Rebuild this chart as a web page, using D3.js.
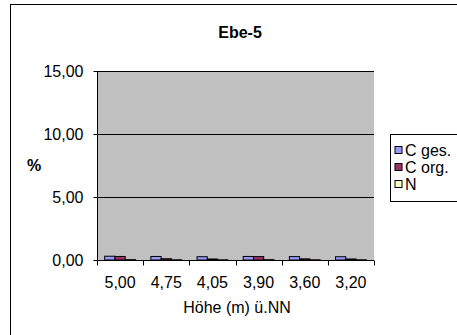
<!DOCTYPE html>
<html>
<head>
<meta charset="utf-8">
<script src="https://cdn.jsdelivr.net/npm/d3@7"></script>
<style>
  body { margin: 0; background: #fff; }
  svg { display: block; font-family: "Liberation Sans", Arial, sans-serif; }
</style>
</head>
<body>
<svg id="chart" width="457" height="335"></svg>
<script>
const categories = ["5,00", "4,75", "4,05", "3,90", "3,60", "3,20"];
const seriesNames = ["C ges.", "C org.", "N"];
const cGes = [0.30, 0.28, 0.26, 0.28, 0.27, 0.26];
const cOrg = [0.28, 0.10, 0.08, 0.27, 0.09, 0.08];
const nVals = [0.03, 0.02, 0.02, 0.03, 0.02, 0.02];
const yTicks = [0, 5, 10, 15];

const colors = ["#9999FF", "#993366", "#FFFFCC"];
const series = [cGes, cOrg, nVals];

const dims = { left: 97, right: 374, top: 71, bottom: 260, font: 16 };

const svg = d3.select("#chart");

// outer chart frame (runs off the right/bottom edge)
svg.append("rect")
  .attr("x", 10.5).attr("y", 4.5)
  .attr("width", 470).attr("height", 350)
  .attr("fill", "#fff").attr("stroke", "#000");

const x = d3.scaleBand()
  .domain(categories)
  .range([dims.left, dims.right]);

const x1 = d3.scaleBand()
  .domain(d3.range(series.length))
  .range([0, x.bandwidth()])
  .paddingInner(0)
  .paddingOuter(0.75);

const y = d3.scaleLinear()
  .domain([0, 15])
  .range([dims.bottom, dims.top]);

// plot area
svg.append("rect")
  .attr("x", dims.left).attr("y", dims.top)
  .attr("width", dims.right - dims.left).attr("height", dims.bottom - dims.top)
  .attr("fill", "#C0C0C0");

svg.append("g")
  .selectAll("line")
  .data(yTicks.filter((d) => d > 0))
  .join("line")
  .attr("x1", dims.left).attr("x2", dims.right)
  .attr("y1", (d) => Math.round(y(d)) + 0.5)
  .attr("y2", (d) => Math.round(y(d)) + 0.5)
  .attr("stroke", "#000");

// bars
const groups = svg.append("g")
  .selectAll("g")
  .data(categories)
  .join("g")
  .attr("transform", (d) => `translate(${x(d)},0)`);

groups.selectAll("rect")
  .data((d, i) => series.map((s, k) => ({ k, v: s[i] })))
  .join("rect")
  .attr("x", (d) => x1(d.k))
  .attr("y", (d) => y(d.v))
  .attr("width", x1.bandwidth())
  .attr("height", (d) => y(0) - y(d.v))
  .attr("fill", (d) => colors[d.k])
  .attr("stroke", "#000")
  .attr("stroke-width", 1);

// axes
const yAxis = d3.axisLeft(y)
  .tickValues(yTicks)
  .tickSize(4)
  .tickPadding(10)
  .tickFormat((d) => d3.format(".2f")(d).replace(".", ","));

svg.append("g")
  .attr("transform", `translate(${dims.left + 0.5},0)`)
  .call(yAxis)
  .call((g) => g.select(".domain").attr("d", `M0,${dims.top}V${dims.bottom}`))
  .call((g) => g.selectAll("text").attr("font-size", dims.font).attr("fill", "#000").attr("font-family", "Liberation Sans, Arial"));

const xAxis = d3.axisBottom(x).tickSize(0).tickPadding(16);
const gx = svg.append("g")
  .attr("transform", `translate(0,${dims.bottom + 0.5})`)
  .call(xAxis)
  .call((g) => g.select(".domain").attr("d", `M${dims.left},0H${dims.right}`))
  .call((g) => g.selectAll("text").attr("font-size", dims.font).attr("fill", "#000").attr("font-family", "Liberation Sans, Arial"));

// category boundary ticks
gx.append("g")
  .selectAll("line")
  .data(categories.concat([null]))
  .join("line")
  .attr("x1", (d, i) => Math.round(dims.left + i * x.bandwidth()) + 0.5)
  .attr("x2", (d, i) => Math.round(dims.left + i * x.bandwidth()) + 0.5)
  .attr("y1", 0).attr("y2", 5)
  .attr("stroke", "#000");

// titles
svg.append("text")
  .attr("x", 240).attr("y", 38)
  .attr("text-anchor", "middle")
  .attr("font-size", dims.font).attr("font-weight", "bold")
  .text("Ebe-5");

svg.append("text")
  .attr("x", 34).attr("y", 171)
  .attr("text-anchor", "middle")
  .attr("font-size", dims.font).attr("font-weight", "bold")
  .text("%");

svg.append("text")
  .attr("x", 237).attr("y", 313)
  .attr("text-anchor", "middle")
  .attr("font-size", dims.font)
  .text("Höhe (m) ü.NN");

// legend
const legend = svg.append("g").attr("transform", "translate(390.5,134.5)");
legend.append("rect")
  .attr("width", 80).attr("height", 67)
  .attr("fill", "#fff").attr("stroke", "#000");

const item = legend.selectAll(".item")
  .data(seriesNames)
  .join("g")
  .attr("class", "item")
  .attr("transform", (d, i) => `translate(4.5,${21 + i * 17})`);

item.append("rect")
  .attr("x", 0).attr("y", -9)
  .attr("width", 7).attr("height", 7)
  .attr("fill", (d, i) => colors[i])
  .attr("stroke", "#000");

item.append("text")
  .attr("x", 10).attr("y", 0)
  .attr("font-size", dims.font)
  .text((d) => d);
</script>
</body>
</html>
